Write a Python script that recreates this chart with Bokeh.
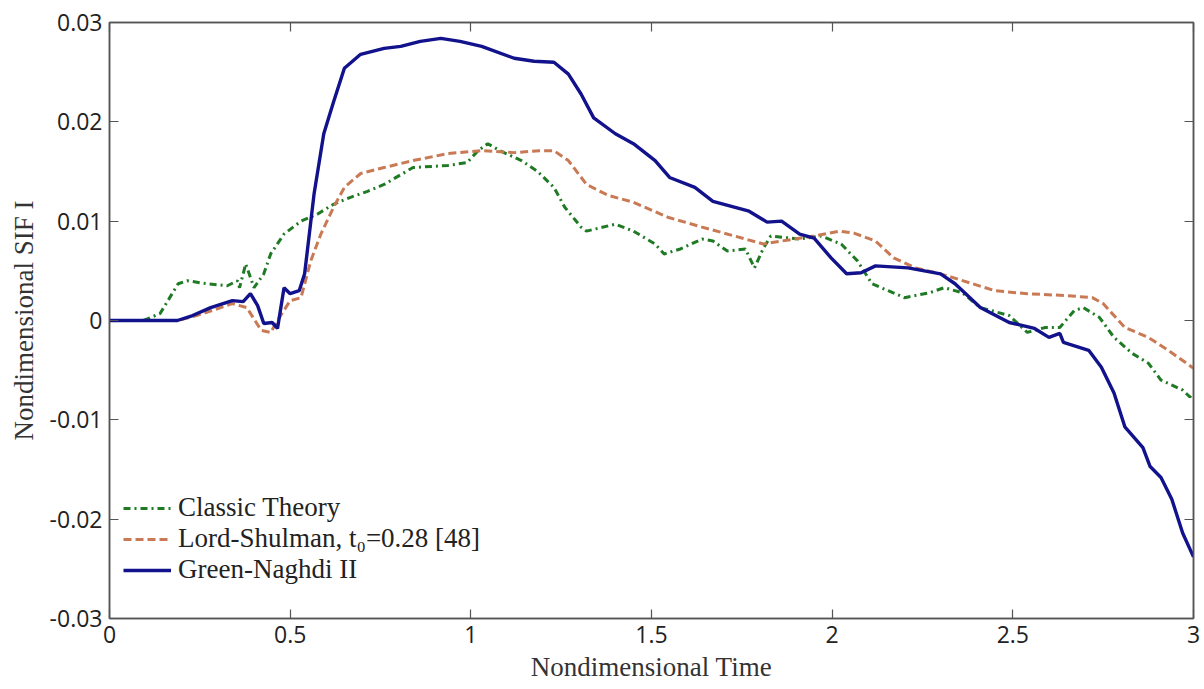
from bokeh.plotting import figure
from bokeh.models import (LinearAxis, FixedTicker, CustomJSTickFormatter, Range1d,
                          Legend, LegendItem)
from bokeh.embed import file_html
from bokeh.resources import INLINE

# Nondimensional time and SIF I for the three thermoelastic theories
t_classic = [0, 0.094, 0.14, 0.19, 0.215, 0.27, 0.326, 0.354, 0.36, 0.377, 0.40, 0.427,
             0.446, 0.483, 0.53, 0.575, 0.62, 0.667, 0.714, 0.76, 0.84, 0.936, 0.99,
             1.02, 1.047, 1.08, 1.14, 1.185, 1.23, 1.26, 1.305, 1.32, 1.40, 1.45, 1.51,
             1.535, 1.58, 1.64, 1.67, 1.71, 1.76, 1.785, 1.81, 1.83, 1.91, 1.97, 2.025,
             2.07, 2.11, 2.155, 2.20, 2.27, 2.31, 2.36, 2.41, 2.49, 2.54, 2.59, 2.63,
             2.67, 2.695, 2.74, 2.78, 2.83, 2.875, 2.91, 2.97, 2.99, 3.0]
sif_classic = [0, 0, 0.0007, 0.0037, 0.0040, 0.0037, 0.0035, 0.0040, 0.0033, 0.0057,
               0.0033, 0.0047, 0.0067, 0.0087, 0.0100, 0.0107, 0.0117, 0.0124, 0.0130,
               0.0137, 0.0154, 0.0156, 0.0159, 0.0171, 0.0178, 0.0171, 0.0161, 0.0150,
               0.0134, 0.0114, 0.0094, 0.0090, 0.0097, 0.0090, 0.0077, 0.0067, 0.0072,
               0.0082, 0.0080, 0.0070, 0.0072, 0.0053, 0.0073, 0.0085, 0.0082, 0.0085,
               0.0077, 0.0060, 0.0037, 0.0030, 0.0023, 0.0028, 0.0033, 0.0028, 0.0013,
               0.0005, -0.0012, -0.0007, -0.0007, 0.0010, 0.0013, 0.0003, -0.0017,
               -0.0033, -0.0043, -0.0060, -0.0070, -0.0077, -0.0073]

t_ls = [0, 0.19, 0.25, 0.30, 0.34, 0.38, 0.42, 0.446, 0.465, 0.50, 0.53, 0.557, 0.585,
        0.62, 0.65, 0.695, 0.76, 0.84, 0.936, 1.03, 1.12, 1.19, 1.23, 1.27, 1.32, 1.38,
        1.45, 1.545, 1.64, 1.73, 1.81, 1.86, 1.95, 2.02, 2.06, 2.12, 2.17, 2.23, 2.30,
        2.38, 2.45, 2.54, 2.65, 2.72, 2.75, 2.81, 2.875, 2.93, 3.0]
sif_ls = [0, 0, 0.0006, 0.0012, 0.0017, 0.0013, -0.0010, -0.0012, 0.0000, 0.0020, 0.0023,
          0.0060, 0.0087, 0.0114, 0.0134, 0.0148, 0.0154, 0.0161, 0.0168, 0.0171, 0.0169,
          0.0171, 0.0171, 0.0161, 0.0137, 0.0126, 0.0119, 0.0104, 0.0094, 0.0085, 0.0077,
          0.0080, 0.0085, 0.0090, 0.0088, 0.0080, 0.0063, 0.0053, 0.0047, 0.0038, 0.0030,
          0.0027, 0.0025, 0.0023, 0.0017, -0.0007, -0.0017, -0.0030, -0.0048]

t_gn = [0, 0.188, 0.23, 0.28, 0.34, 0.37, 0.39, 0.41, 0.427, 0.45, 0.465, 0.483, 0.50,
        0.525, 0.54, 0.566, 0.593, 0.62, 0.65, 0.695, 0.76, 0.806, 0.86, 0.917, 0.97,
        1.03, 1.12, 1.175, 1.23, 1.27, 1.305, 1.34, 1.40, 1.45, 1.51, 1.55, 1.62, 1.67,
        1.77, 1.82, 1.86, 1.91, 1.95, 1.997, 2.04, 2.08, 2.12, 2.21, 2.30, 2.34, 2.41,
        2.49, 2.56, 2.60, 2.63, 2.64, 2.71, 2.745, 2.78, 2.81, 2.86, 2.88, 2.91, 2.94,
        2.97, 3.0]
sif_gn = [0, 0, 0.0005, 0.0013, 0.0020, 0.0019, 0.0027, 0.0015, -0.0003, -0.0002,
          -0.0008, 0.0033, 0.0027, 0.0030, 0.0047, 0.0127, 0.0188, 0.0220, 0.0254, 0.0268,
          0.0274, 0.0276, 0.0281, 0.0284, 0.0281, 0.0276, 0.0264, 0.0261, 0.0260, 0.0248,
          0.0228, 0.0204, 0.0188, 0.0178, 0.0161, 0.0144, 0.0134, 0.0120, 0.0110, 0.0099,
          0.0100, 0.0087, 0.0083, 0.0063, 0.0047, 0.0048, 0.0055, 0.0053, 0.0047, 0.0037,
          0.0013, -0.0002, -0.0008, -0.0017, -0.0013, -0.0022, -0.0030, -0.0047, -0.0073,
          -0.0107, -0.0128, -0.0147, -0.0158, -0.0180, -0.0214, -0.0238]

x_ticks = [0, 0.5, 1, 1.5, 2, 2.5, 3]
y_ticks = [-0.03, -0.02, -0.01, 0, 0.01, 0.02, 0.03]

labels = ["Classic Theory", "Lord-Shulman, t\u2080=0.28 [48]", "Green-Naghdi II"]

GREEN = "#1f7a24"
ORANGE = "#c97a55"
BLUE = "#12128c"
AXIS = "#555555"
SERIF = "Liberation Serif"
SANS = "Open Sans"

p = figure(width=1204, height=689, output_backend="svg", toolbar_location=None,
           x_range=Range1d(0, 3), y_range=Range1d(-0.03, 0.03),
           min_border_left=109, min_border_right=11, min_border_top=22,
           min_border_bottom=71)
p.xgrid.visible = False
p.ygrid.visible = False
p.outline_line_color = AXIS
p.outline_line_width = 1.5
p.background_fill_color = "white"
p.border_fill_color = "white"

fmt = CustomJSTickFormatter(code="return String(Math.round(tick * 100) / 100);")

def style_axis(ax, show_labels=True):
    ax.axis_line_color = AXIS
    ax.axis_line_width = 1.5
    ax.major_tick_line_color = AXIS
    ax.major_tick_line_width = 1.2
    ax.major_tick_in = 9
    ax.major_tick_out = 0
    ax.minor_tick_line_color = None
    ax.major_label_text_font = SANS
    ax.major_label_text_font_size = "23px"
    ax.major_label_text_color = "#222222"
    ax.major_label_standoff = 7
    ax.axis_label_text_font = SERIF
    ax.axis_label_text_font_size = "27px"
    ax.axis_label_text_font_style = "normal"
    ax.axis_label_text_color = "#333333"
    if not show_labels:
        ax.major_label_text_color = None

xaxis = p.xaxis[0]
xaxis.ticker = FixedTicker(ticks=x_ticks)
xaxis.formatter = fmt
style_axis(xaxis)
xaxis.axis_label = "Nondimensional Time"
xaxis.axis_label_standoff = 6

yaxis = p.yaxis[0]
yaxis.ticker = FixedTicker(ticks=y_ticks)
yaxis.formatter = fmt
style_axis(yaxis)
yaxis.axis_label = "Nondimensional SIF I"
yaxis.axis_label_standoff = 8

top = LinearAxis(ticker=FixedTicker(ticks=x_ticks), formatter=fmt)
style_axis(top, show_labels=False)
top.major_label_standoff = 0
p.add_layout(top, "above")

right = LinearAxis(ticker=FixedTicker(ticks=y_ticks), formatter=fmt)
style_axis(right, show_labels=False)
right.major_label_standoff = 0
p.add_layout(right, "right")

r_classic = p.line(t_classic, sif_classic, line_color=GREEN, line_width=3,
                   line_dash="7 4 2 4")
r_ls = p.line(t_ls, sif_ls, line_color=ORANGE, line_width=3, line_dash="8 4")
r_gn = p.line(t_gn, sif_gn, line_color=BLUE, line_width=3.4)

legend = Legend(items=[LegendItem(label=labels[0], renderers=[r_classic]),
                       LegendItem(label=labels[1], renderers=[r_ls]),
                       LegendItem(label=labels[2], renderers=[r_gn])],
                location=(14, 33), orientation="vertical")
legend.border_line_color = None
legend.background_fill_alpha = 0
legend.padding = 0
legend.margin = 0
legend.spacing = 0
legend.glyph_width = 48
legend.glyph_height = 28
legend.label_height = 28
legend.label_standoff = 7
legend.label_text_font = SERIF
legend.label_text_font_size = "27px"
legend.label_text_line_height = 1.0
legend.label_text_color = "#222222"
p.add_layout(legend, "center")

open("out.html", "w").write(file_html(p, INLINE))
